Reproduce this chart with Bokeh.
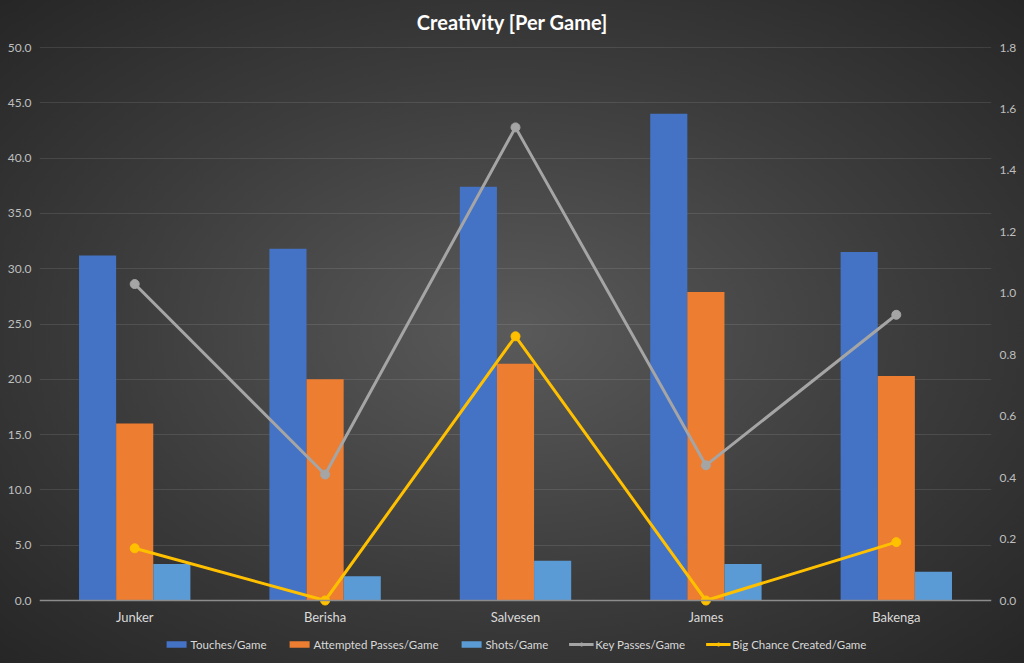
from bokeh.plotting import figure
from bokeh.models import (ColumnDataSource, Range1d, LinearAxis, FixedTicker,
                          NumeralTickFormatter, Legend, LegendItem, FactorRange, Span)
from bokeh.core.properties import value
from bokeh.transform import dodge
from bokeh.embed import file_html
from bokeh.resources import INLINE

players = ["Junker", "Berisha", "Salvesen", "James", "Bakenga"]
touches = [31.2, 31.8, 37.4, 44.0, 31.5]
attempted = [16.0, 20.0, 21.4, 27.9, 20.3]
shots = [3.3, 2.2, 3.6, 3.3, 2.6]
key_passes = [1.03, 0.41, 1.54, 0.44, 0.93]
big_chance = [0.17, 0.0, 0.86, 0.0, 0.19]

left_ticks = [0, 5, 10, 15, 20, 25, 30, 35, 40, 45, 50]
right_ticks = [0, 0.2, 0.4, 0.6, 0.8, 1.0, 1.2, 1.4, 1.6, 1.8]
title_text = "Creativity [Per Game]"

src = ColumnDataSource(dict(cat=players, touches=touches, attempted=attempted,
                            shots=shots, kp=key_passes, bc=big_chance,
                            base=[0] * len(players)))

FONT = "Lato"
# frame covers the full canvas height; 0 sits at 600px, 50 at 47px
PX = 553 / 50.0
LEFT_RANGE = (-63 / PX, 50 + 47 / PX)
PXR = 553 / 1.8
RIGHT_RANGE = (-63 / PXR, 1.8 + 47 / PXR)

p = figure(x_range=FactorRange(*players, range_padding=0),
           y_range=Range1d(*LEFT_RANGE),
           frame_width=952, frame_height=663, output_backend="svg", toolbar_location=None,
           min_border_left=39, min_border_right=33, min_border_top=0, min_border_bottom=0)
p.styles = {"background": "radial-gradient(ellipse at 50% 50%, #5a5a5a 0%, #3c3c3c 55%, #262626 100%)"}
p.background_fill_alpha = 0
p.border_fill_alpha = 0
p.outline_line_color = None

p.extra_y_ranges = {"right": Range1d(*RIGHT_RANGE)}

# gridlines
p.xgrid.grid_line_color = None
p.ygrid.grid_line_color = "#ffffff"
p.ygrid.grid_line_alpha = 0.1
p.ygrid.ticker = FixedTicker(ticks=left_ticks[1:])

w = 0.195
r1 = p.vbar(x=dodge("cat", -w, range=p.x_range), top="touches", width=w, source=src,
            fill_color="#4472c4", line_color=None)
r2 = p.vbar(x=dodge("cat", 0, range=p.x_range), top="attempted", width=w, source=src,
            fill_color="#ed7d31", line_color=None)
r3 = p.vbar(x=dodge("cat", w, range=p.x_range), top="shots", width=w, source=src,
            fill_color="#5b9bd5", line_color=None)

p.add_layout(Span(location=0, dimension="width", line_color="#8c8c8c", line_width=1.5))

l4 = p.line(x="cat", y="kp", source=src, y_range_name="right", line_color="#a5a5a5", line_width=3)
s4 = p.scatter(x="cat", y="kp", source=src, y_range_name="right", size=9,
               fill_color="#a5a5a5", line_color="#a5a5a5")
l5 = p.line(x="cat", y="bc", source=src, y_range_name="right", line_color="#ffc000", line_width=3)
s5 = p.scatter(x="cat", y="bc", source=src, y_range_name="right", size=9,
               fill_color="#ffc000", line_color="#ffc000")

# category labels (x axis)
p.text(x="cat", y="base", text="cat", source=src, text_align="center", text_baseline="top",
       y_offset=8, text_color="#d9d9d9", text_font=value(FONT), text_font_size="13px")

# title
p.text(x=[players[2]], y=[LEFT_RANGE[1]], text=[title_text], x_offset=-3, y_offset=21,
       text_align="center", text_baseline="middle", text_color="#ffffff",
       text_font=value(FONT), text_font_size="20px", text_font_style="bold")

p.xaxis.visible = False

# y axes
p.yaxis.ticker = FixedTicker(ticks=left_ticks)
p.yaxis.formatter = NumeralTickFormatter(format="0.0")
ra = LinearAxis(y_range_name="right", ticker=FixedTicker(ticks=right_ticks),
                formatter=NumeralTickFormatter(format="0.0"))
p.add_layout(ra, "right")

for ax in [p.yaxis[0], ra]:
    ax.axis_line_color = None
    ax.major_tick_line_color = None
    ax.minor_tick_line_color = None
    ax.major_tick_out = 0
    ax.major_tick_in = 0
    ax.major_label_text_color = "#bfbfbf"
    ax.major_label_text_font = FONT
    ax.major_label_text_font_size = "12px"
    ax.major_label_standoff = 8

legend = Legend(items=[
    LegendItem(label="Touches/Game", renderers=[r1]),
    LegendItem(label="Attempted Passes/Game", renderers=[r2]),
    LegendItem(label="Shots/Game", renderers=[r3]),
    LegendItem(label="Key Passes/Game", renderers=[l4, s4]),
    LegendItem(label="Big Chance Created/Game", renderers=[l5, s5]),
], orientation="horizontal", location="bottom_center")
legend.background_fill_alpha = 0
legend.border_line_color = None
legend.label_text_color = "#d9d9d9"
legend.label_text_font = FONT
legend.label_text_font_size = "11.5px"
legend.label_height = 16
legend.glyph_width = 25
legend.glyph_height = 8
legend.spacing = 20
legend.label_standoff = 2
legend.padding = 4
legend.margin = 11
p.add_layout(legend, "center")

open("out.html", "w").write(file_html(p, INLINE))
